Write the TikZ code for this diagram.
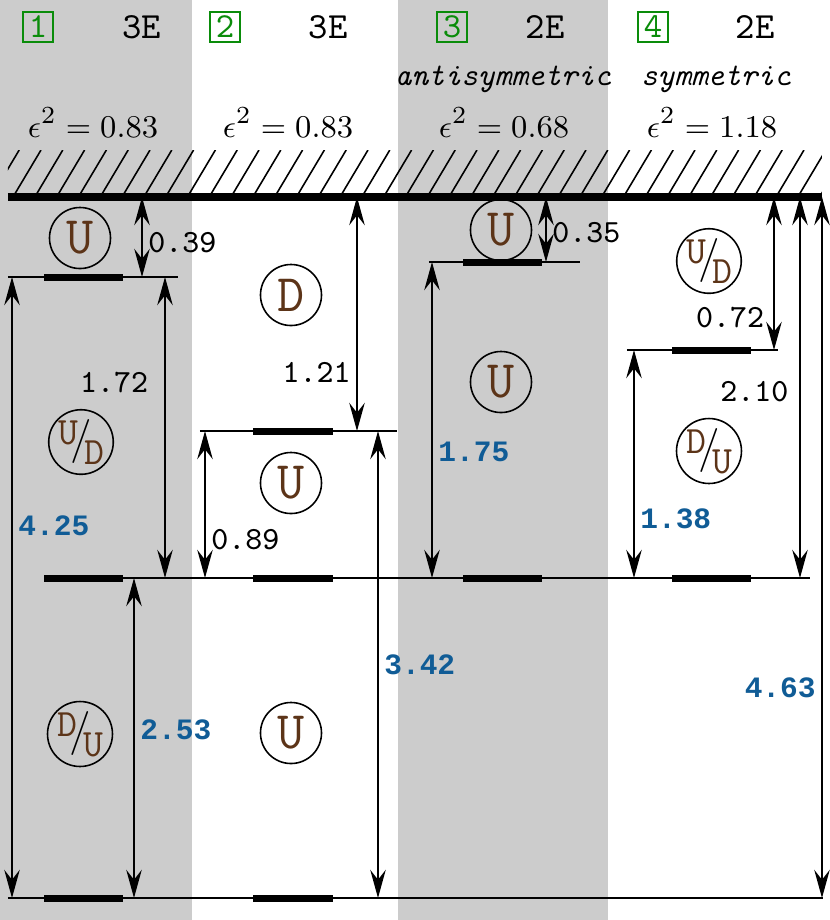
\documentclass[tikz,border=0pt]{standalone}
\usepackage{fontspec}
\usepackage{tikz}
\usetikzlibrary{arrows.meta}

\newfontfamily\gapfont{Liberation Mono}

\definecolor{bandgray}{gray}{0.8}
\definecolor{spinbrown}{RGB}{92,52,24}
\definecolor{gapblue}{RGB}{16,92,150}
\definecolor{tagreen}{RGB}{10,140,10}

% small letter over slash over small letter
\newcommand{\spinfrac}[2]{\raisebox{0.45ex}{#1}\kern-0.2em\textcolor{black}{\rmfamily\fontsize{12.5}{12.5}\selectfont /}\kern-0.2em\raisebox{-0.75ex}{#2}}

\begin{document}
\begin{tikzpicture}
    [
        x=0.01cm, y=-0.01cm,
        band/.style={fill=bandgray, draw=none},
        hatch/.style={line width=0.45pt},
        wall/.style={line width=2pt},
        lvline/.style={line width=0.4pt},
        bar/.style={rectangle, fill=black, inner sep=0pt, minimum width=0.79cm, minimum height=0.07cm},
        dist/.style={>={Stealth[length=8pt, width=4.4pt, inset=2.8pt]}, <->, line width=0.6pt},
        spin/.style={draw, circle, line width=0.45pt, minimum size=0.61cm, inner sep=0pt, text=spinbrown, font=\ttfamily\fontsize{15}{15}\selectfont},
        pair/.style={draw, circle, line width=0.45pt, minimum size=0.61cm, inner sep=0pt, text=spinbrown, font=\ttfamily\fontsize{11}{11}\selectfont},
        num/.style={inner sep=1.5pt, font=\ttfamily\fontsize{9.2}{10}\selectfont},
        total/.style={inner sep=1.5pt, text=gapblue, font=\gapfont\bfseries\fontsize{8.4}{10}\selectfont},
        tag/.style={draw=tagreen, text=tagreen, line width=0.4pt, minimum size=8.5pt, inner sep=0pt, font=\ttfamily\fontsize{10}{10}\selectfont},
        head/.style={anchor=base, font=\ttfamily\fontsize{10.5}{12}\selectfont},
        sym/.style={anchor=base, font=\ttfamily\itshape\fontsize{9}{10}\selectfont},
        eps/.style={anchor=base, font=\fontsize{9.5}{11}\selectfont}
    ]
        \useasboundingbox (0,0) rectangle (829,920);
        % =========================================================================
        % BACKGROUND
        % =========================================================================
        \fill [band] (0,0) rectangle (192,920);
        \fill [band] (398,0) rectangle (608,920);
        % --- hatched wall ---
        \begin{scope}
            \clip (8,150) rectangle (822,197);
            \foreach \i in {-2,...,38}
                \draw [hatch] ({13+21.8*\i},197) -- ++(28,-47);
        \end{scope}
        \draw [wall] (8,197) -- (822,197);

        % =========================================================================
        % NODES
        % =========================================================================
        % --- Header ---
        \node [tag] (tag1) at (38,27) {1};
        \node [tag] (tag2) at (225,27) {2};
        \node [tag] (tag3) at (452,27) {3};
        \node [tag] (tag4) at (653,27) {4};
        \node [head] (head1) at (142,38) {3E};
        \node [head] (head2) at (328,38) {3E};
        \node [head] (head3) at (545,38) {2E};
        \node [head] (head4) at (755,38) {2E};
        \node [sym] (sym3) at (503,85) {antisymmetric};
        \node [sym] (sym4) at (716,85) {symmetric};
        \node [eps] (eps1) at (93,137) {$\epsilon^2 = 0.83$};
        \node [eps] (eps2) at (288,137) {$\epsilon^2 = 0.83$};
        \node [eps] (eps3) at (504,137) {$\epsilon^2 = 0.68$};
        \node [eps] (eps4) at (712,137) {$\epsilon^2 = 1.18$};
        % --- Levels ---
        \coordinate (wall) at (0,197);
        \coordinate (base) at (0,898);
        \coordinate (mid)  at (0,578);
        \coordinate (lvA)  at (0,277);
        \coordinate (lvB)  at (0,431);
        \coordinate (lvC)  at (0,262);
        \coordinate (lvD)  at (0,350);
        \draw [lvline] (8,277) -- (178,277);
        \draw [lvline] (200,431) -- (397,431);
        \draw [lvline] (429,262) -- (580,262);
        \draw [lvline] (627,350) -- (778,350);
        \draw [lvline] (123,578) -- (810,578);
        \draw [lvline] (8,898) -- (823,898);
        %  Column 1
        \node [bar] (barA1) at (83.5,277) {};
        \node [bar] (barA2) at (83.5,578) {};
        \node [bar] (barA3) at (83.5,898) {};
        %  Column 2
        \node [bar] (barB1) at (293,431) {};
        \node [bar] (barB2) at (293,578) {};
        \node [bar] (barB3) at (293,898) {};
        %  Column 3
        \node [bar] (barC1) at (502.5,262) {};
        \node [bar] (barC2) at (502.5,578) {};
        %  Column 4
        \node [bar] (barD1) at (711.5,350) {};
        \node [bar] (barD2) at (711.5,578) {};
        % --- Spins ---
        \node [spin] (uA1) at (80,238) {U};
        \node [pair] (udA) at (81,442) {\spinfrac{U}{D}};
        \node [pair] (duA) at (80,734) {\spinfrac{D}{U}};
        \node [spin] (dB1) at (291,295) {D};
        \node [spin] (uB2) at (291,483) {U};
        \node [spin] (uB3) at (291,733) {U};
        \node [spin] (uC1) at (501,230) {U};
        \node [spin] (uC2) at (501,382) {U};
        \node [pair] (udD) at (709,261) {\spinfrac{U}{D}};
        \node [pair] (duD) at (709,451) {\spinfrac{D}{U}};
        % --- Arrow columns ---
        \coordinate (xA1) at (142,0);
        \coordinate (xA2) at (12,0);
        \coordinate (xA3) at (165,0);
        \coordinate (xA4) at (134,0);
        \coordinate (xB1) at (357,0);
        \coordinate (xB2) at (205,0);
        \coordinate (xB3) at (378,0);
        \coordinate (xC1) at (546,0);
        \coordinate (xC2) at (432,0);
        \coordinate (xD1) at (774,0);
        \coordinate (xD2) at (634,0);
        \coordinate (xD3) at (800,0);
        \coordinate (xD4) at (822,0);

        % =========================================================================
        % PATHS
        % =========================================================================
        %  Column 1
        \draw [dist] (xA1 |- wall) -- node [num, pos=0.57, right] {0.39} (xA1 |- lvA);
        \draw [dist] (xA2 |- lvA) -- node [total, pos=0.4, right] {4.25} (xA2 |- base);
        \draw [dist] (xA3 |- lvA) -- node [num, pos=0.35, left, xshift=-3pt] {1.72} (xA3 |- mid);
        \draw [dist] (xA4 |- mid) -- node [total, pos=0.475, right] {2.53} (xA4 |- base);
        %  Column 2
        \draw [dist] (xB1 |- wall) -- node [num, pos=0.75, left] {1.21} (xB1 |- lvB);
        \draw [dist] (xB2 |- lvB) -- node [num, pos=0.74, right] {0.89} (xB2 |- mid);
        \draw [dist] (xB3 |- lvB) -- node [total, pos=0.5, right] {3.42} (xB3 |- base);
        %  Column 3
        \draw [dist] (xC1 |- wall) -- node [num, pos=0.55, right] {0.35} (xC1 |- lvC);
        \draw [dist] (xC2 |- lvC) -- node [total, pos=0.6, right] {1.75} (xC2 |- mid);
        %  Column 4
        \draw [dist] (xD1 |- wall) -- node [num, pos=0.79, left, xshift=-1pt] {0.72} (xD1 |- lvD);
        \draw [dist] (xD2 |- lvD) -- node [total, pos=0.74, right] {1.38} (xD2 |- mid);
        \draw [dist] (xD3 |- wall) -- node [num, pos=0.51, left, xshift=-1.5pt] {2.10} (xD3 |- mid);
        \draw [dist] (xD4 |- wall) -- node [total, pos=0.70, left] {4.63} (xD4 |- base);

    \end{tikzpicture}
\end{document}
